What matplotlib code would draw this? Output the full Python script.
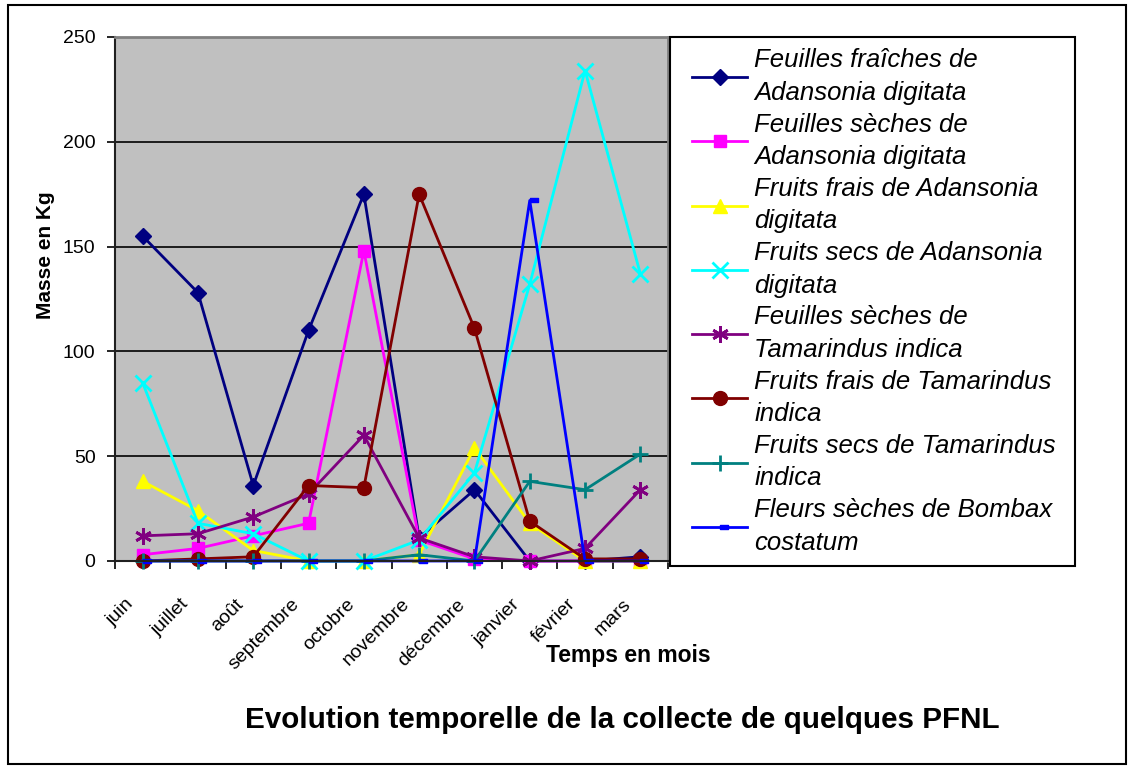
import numpy as np
import matplotlib
matplotlib.use("Agg")
import matplotlib.pyplot as plt
from matplotlib.path import Path
from matplotlib.patches import Rectangle
from matplotlib.transforms import ScaledTranslation
from matplotlib.lines import Line2D
from matplotlib.legend_handler import HandlerLine2D

plt.rcParams['font.family'] = ['Liberation Sans', 'DejaVu Sans']

# mois
mois = ['juin', 'juillet', 'août', 'septembre', 'octobre', 'novembre',
        'décembre', 'janvier', 'février', 'mars']

# masses en kg
feuilles_fraiches_adansonia = [155, 128, 36, 110, 175, 11, 34, 0, 0, 2]
feuilles_seches_adansonia = [3, 6, 12, 18, 148, 10, 1, 0, 0, 0]
fruits_frais_adansonia = [38, 24, 5, 0, 0, 3, 54, 18, 0, 0]
fruits_secs_adansonia = [85, 18, 13, 0, 0, 10, 42, 132, 234, 137]
feuilles_seches_tamarindus = [12, 13, 21, 32, 60, 11, 2, 0, 6, 34]
fruits_frais_tamarindus = [0, 1, 2, 36, 35, 175, 111, 19, 1, 1]
fruits_secs_tamarindus = [0, 0, 0, 0, 0, 3, 0, 38, 34, 51]
fleurs_seches_bombax = [0, 0, 0, 0, 0, 0, 0, 172, 0, 0]

noms = ['Feuilles fraîches de\nAdansonia digitata',
        'Feuilles sèches de\nAdansonia digitata',
        'Fruits frais de Adansonia\ndigitata',
        'Fruits secs de Adansonia\ndigitata',
        'Feuilles sèches de\nTamarindus indica',
        'Fruits frais de Tamarindus\nindica',
        'Fruits secs de Tamarindus\nindica',
        'Fleurs sèches de Bombax\ncostatum']

series = [feuilles_fraiches_adansonia, feuilles_seches_adansonia,
          fruits_frais_adansonia, fruits_secs_adansonia,
          feuilles_seches_tamarindus, fruits_frais_tamarindus,
          fruits_secs_tamarindus, fleurs_seches_bombax]

# petit tiret a droite du point (marqueur excel)
tiret = Path([(0, -0.28), (1, -0.28), (1, 0.28), (0, 0.28), (0, -0.28)],
             [Path.MOVETO, Path.LINETO, Path.LINETO, Path.LINETO, Path.CLOSEPOLY])

styles = [
    dict(color='#000080', marker='D', ms=8),
    dict(color='#FF00FF', marker='s', ms=9),
    dict(color='#FFFF00', marker='^', ms=10),
    dict(color='#00FFFF', marker='x', ms=11, mew=2),
    dict(color='#800080', marker=(6, 2, 0), ms=12, mew=2),
    dict(color='#800000', marker='o', ms=10),
    dict(color='#008080', marker='+', ms=12, mew=2),
    dict(color='#0000FF', marker=tiret, ms=12),
]

fig = plt.figure(figsize=(11.32, 7.67), dpi=100)
ax = fig.add_axes([0.1016, 0.2686, 0.4885, 0.6832])
ax.set_facecolor('#C0C0C0')

x = np.arange(len(mois))
for vals, nom, st in zip(series, noms, styles):
    ax.plot(x, vals, lw=2, label=nom, clip_on=False, **st)

ax.set_xlim(-0.5, len(mois) - 0.5)
ax.set_ylim(0, 250)
ax.set_yticks([0, 50, 100, 150, 200, 250])
ax.yaxis.grid(True, color='black', lw=1.2)
ax.set_axisbelow(True)

ax.set_xticks(x)
ax.set_xticks(np.arange(-0.5, len(mois)), minor=True)
ax.set_xticklabels(mois, rotation=45, ha='right', va='top',
                   rotation_mode='anchor', fontsize=14)
ax.tick_params(axis='x', which='major', length=0, pad=25)
ax.tick_params(axis='x', which='minor', length=6, width=1.2, direction='out')
ax.tick_params(axis='y', length=6, width=1.2, pad=8, labelsize=14)
decal = ScaledTranslation(-0.18, 0, fig.dpi_scale_trans)
for lab in ax.get_xticklabels():
    lab.set_transform(lab.get_transform() + decal)

for s in ['left', 'bottom']:
    ax.spines[s].set_color('#202020')
    ax.spines[s].set_linewidth(1.5)
for s in ['top', 'right']:
    ax.spines[s].set_color('#808080')
    ax.spines[s].set_linewidth(2)

leg = fig.legend(loc='upper left', bbox_to_anchor=(0.592, 0.952, 0.358, 0.0),
                 mode='expand', prop={'style': 'italic', 'size': 18.5},
                 frameon=True, fancybox=False, edgecolor='black',
                 handlelength=2.55, handletextpad=0.27, labelspacing=0.3,
                 borderpad=0.45, borderaxespad=0,
                 handler_map={Line2D: HandlerLine2D(xpad=0.4)})
leg.get_frame().set_linewidth(1.5)
leg.get_frame().set_alpha(1)
for t in leg.get_texts():
    t.set_linespacing(1.45)

fig.text(0.04, 0.667, 'Masse en Kg', rotation=90, ha='center', va='center',
         fontsize=15, fontweight='bold')
fig.text(0.555, 0.146, 'Temps en mois', ha='center', va='center',
         fontsize=16.5, fontweight='bold')
fig.text(0.55, 0.061, 'Evolution temporelle de la collecte de quelques PFNL',
         ha='center', va='center', fontsize=21.3, fontweight='bold')

# cadre autour de la figure
fig.patches.append(Rectangle((0.007, 0.004), 0.988, 0.99, transform=fig.transFigure,
                             fill=False, edgecolor='black', lw=1.5))

fig.savefig('out.png', dpi=100)
